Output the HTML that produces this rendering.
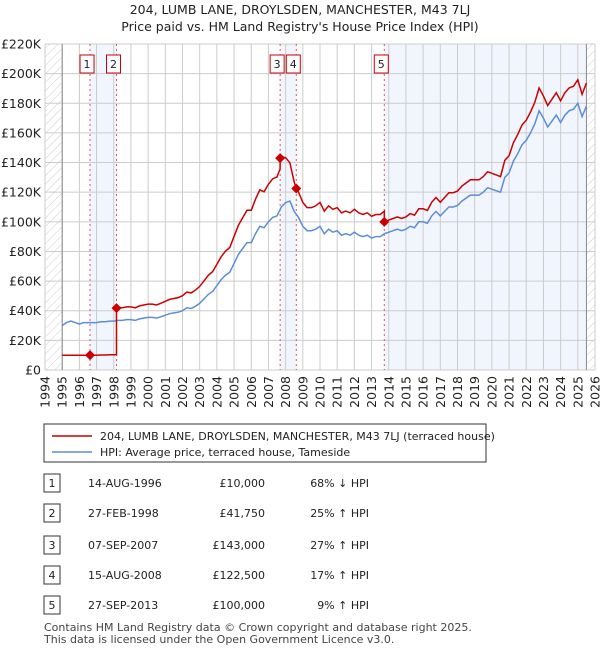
<!DOCTYPE html>
<html><head><meta charset="utf-8"><style>
body{margin:0;background:#fff;font-family:"Liberation Sans","DejaVu Sans",sans-serif;}
svg text{font-family:"DejaVu Sans","Liberation Sans",sans-serif;}
</style></head><body>
<svg id="c" width="600" height="650" viewBox="0 0 600 650" xmlns="http://www.w3.org/2000/svg">
<defs><pattern id="hatch" width="6" height="6" patternUnits="userSpaceOnUse" patternTransform="rotate(45)"><line x1="0" y1="0" x2="0" y2="6" stroke="#ccc" stroke-width="1"/></pattern></defs>
<text x="300" y="14" text-anchor="middle" font-size="12.5" fill="#222">204, LUMB LANE, DROYLSDEN, MANCHESTER, M43 7LJ</text>
<text x="300" y="31" text-anchor="middle" font-size="12.5" fill="#222">Price paid vs. HM Land Registry's House Price Index (HPI)</text>
<g id="plot"></g>
<g>
<rect x="44" y="424" width="442" height="38" fill="#fff" stroke="#333" stroke-width="1"/>
<line x1="52" y1="436" x2="92" y2="436" stroke="#cc0000" stroke-width="1.5"/>
<text x="100" y="440" font-size="11" fill="#222">204, LUMB LANE, DROYLSDEN, MANCHESTER, M43 7LJ (terraced house)</text>
<line x1="52" y1="452" x2="92" y2="452" stroke="#5b8ed6" stroke-width="1.5"/>
<text x="100" y="456" font-size="11" fill="#222">HPI: Average price, terraced house, Tameside</text>
</g>
<g id="table"></g>
<text x="44" y="631" font-size="11" fill="#444">Contains HM Land Registry data © Crown copyright and database right 2025.</text>
<text x="44" y="643" font-size="11" fill="#444">This data is licensed under the Open Government Licence v3.0.</text>
</svg>
<script>
const hpiStart = 1995.0;
const hpiValues = [30,32,33,32, 31,32,32,32, 32,32.5,32.5,33, 33,33.5,33.5,34, 34,33.5,34.5,35, 35.5,35.5,35,36, 37,38,38.5,39, 40,42,41.5,43, 45,48,51,53, 57,61,64,66, 72,78,82,86, 86,92,97,96, 100,103,104,110, 113,114,107,103, 97,94,94,95, 97,92,95,93, 94,91,92,91, 93,91,90,91, 89,90,90,92, 93,94,95,94, 95,97,96,100, 100,99,104,107, 104,107,110,110, 111,114,116,118, 118,118,120,123, 122,121,120,130, 133,141,146,152, 155,160,166,175, 170,164,168,172, 167,172,175,176, 180,171,178];
const saleTimes = [1996.62, 1998.16, 2007.68, 2008.62, 2013.74];
const salePrices = [10, 41.75, 143, 122.5, 100];
const blendToNext = [false, false, true, false, false];
const saleDates = ["14-AUG-1996","27-FEB-1998","07-SEP-2007","15-AUG-2008","27-SEP-2013"];
const salePriceLabels = ["£10,000","£41,750","£143,000","£122,500","£100,000"];
const saleHpiLabels = ["68% ↓ HPI","25% ↑ HPI","27% ↑ HPI","17% ↑ HPI","9% ↑ HPI"];
const yTicks = [0,20,40,60,80,100,120,140,160,180,200,220];
const xStart = 1994, xEnd = 2026, yMax = 220;

const L=45,R=595,T=44,B=370;
const X=t=>L+(t-xStart)/(xEnd-xStart)*(R-L);
const Y=v=>B-v/yMax*(B-T);
const NS="http://www.w3.org/2000/svg";
const plot=document.getElementById('plot');
function mk(tag,attrs,parent){const e=document.createElementNS(NS,tag);for(const k in attrs)e.setAttribute(k,attrs[k]);(parent||plot).appendChild(e);return e;}
const hpiT=i=>hpiStart+i*0.25;
const lastT=hpiT(hpiValues.length-1);
function hpiAt(t){let f=(t-hpiStart)/0.25;if(f<=0)return hpiValues[0];if(f>=hpiValues.length-1)return hpiValues[hpiValues.length-1];const i=Math.floor(f),r=f-i;return hpiValues[i]*(1-r)+hpiValues[i+1]*r;}

const bands=[[saleTimes[0],saleTimes[1]],[saleTimes[2],saleTimes[3]],[saleTimes[4],lastT]];
bands.forEach(b=>{const r=mk('rect',{x:X(b[0]),y:T,width:X(b[1])-X(b[0]),height:B-T,fill:'#eef3fc',opacity:0.8});

});
let h1=mk('rect',{x:L,y:T,width:X(hpiStart)-L,height:B-T,fill:'url(#hatch)'});


let h2=mk('rect',{x:X(lastT),y:T,width:R-X(lastT),height:B-T,fill:'url(#hatch)'});


for(let y=xStart;y<=xEnd;y++){const g=mk('line',{x1:X(y),x2:X(y),y1:T,y2:B,stroke:'#ccc','stroke-width':1});


const tx=mk('text',{x:0,y:0,transform:`translate(${X(y)+4.5},${B+6}) rotate(-90)`,'text-anchor':'end','font-size':12.5,fill:'#222'});
tx.textContent=y;

}
yTicks.forEach(v=>{const g=mk('line',{x1:L,x2:R,y1:Y(v),y2:Y(v),stroke:'#ccc','stroke-width':1});


const tx=mk('text',{x:L-4,y:Y(v)+4.5,'text-anchor':'end','font-size':12.5,fill:'#222'});
tx.textContent=v===0?'£0':'£'+v+'K';

});
mk('line',{x1:X(hpiStart),x2:X(hpiStart),y1:T,y2:B,stroke:'#888'});
mk('line',{x1:X(lastT),x2:X(lastT),y1:T,y2:B,stroke:'#888'});
saleTimes.forEach((t,i)=>{const l=mk('line',{x1:X(t),x2:X(t),y1:T,y2:B,stroke:'#e05555','stroke-width':1,'stroke-dasharray':'2,3'});


const cx=X(t)-3;
const b=mk('rect',{x:cx-7,y:55,width:14,height:18,fill:'#fff',stroke:'#cc0000','stroke-width':1});


const tx=mk('text',{x:cx,y:68,'text-anchor':'middle','font-size':11,fill:'#222'});
tx.textContent=i+1;

});
let d='';hpiValues.forEach((v,i)=>{d+=(i?'L':'M')+X(hpiT(i)).toFixed(1)+','+Y(v).toFixed(1);});
const hp=mk('path',{d,fill:'none',stroke:'#5b8ed6','stroke-width':1.5});


const ratio=saleTimes.map((t,i)=>salePrices[i]/hpiAt(t));
function priceAt(t){let k=-1;for(let j=0;j<saleTimes.length;j++)if(t>=saleTimes[j])k=j;
if(k<0)return salePrices[0];
let r=ratio[k];
if(blendToNext[k]&&k+1<saleTimes.length){const f=(t-saleTimes[k])/(saleTimes[k+1]-saleTimes[k]);r=ratio[k]*(1-f)+ratio[k+1]*f;}
return r*hpiAt(t);}
const times=[];for(let i=0;i<hpiValues.length;i++)times.push(hpiT(i));
const allT=times.concat(saleTimes).sort((a,b)=>a-b);
let pd='';allT.forEach(t=>{
 const si=saleTimes.indexOf(t);
 if(si>0){pd+='L'+X(t).toFixed(1)+','+Y(priceAt(t-0.001)).toFixed(1);}
 pd+=(pd?'L':'M')+X(t).toFixed(1)+','+Y(priceAt(t)).toFixed(1);});
const pp=mk('path',{d:pd,fill:'none',stroke:'#cc0000','stroke-width':1.5});


saleTimes.forEach((t,i)=>{const x=X(t),y=Y(salePrices[i]);
const m=mk('path',{d:`M${x},${y-5}L${x+5},${y}L${x},${y+5}L${x-5},${y}Z`,fill:'#cc0000'});

});
const tb=document.getElementById('table');
const rowY=[483,513,545,575,605];
saleTimes.forEach((t,i)=>{const y=rowY[i];
const b=mk('rect',{x:44,y:y-9,width:16,height:18,fill:'#fff',stroke:'#333'},tb);


const cells=[[52,'middle',String(i+1)],[88,'start',saleDates[i]],[265,'end',salePriceLabels[i]],[369,'end',saleHpiLabels[i]]];
cells.forEach(c=>{const tx=mk('text',{x:c[0],y:y+4,'text-anchor':c[1],'font-size':11,fill:'#222'},tb);
tx.textContent=c[2];

});});
</script>
</body></html>
